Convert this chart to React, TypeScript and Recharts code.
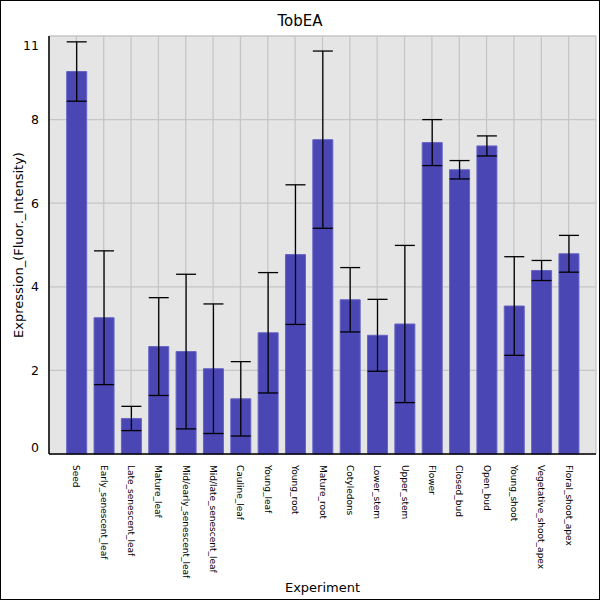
import React from 'react';
import { BarChart, Bar, XAxis, YAxis, CartesianGrid, ErrorBar } from 'recharts';

const categories = [
  'Seed', 'Early_senescent_leaf', 'Late_senescent_leaf', 'Mature_leaf', 'Mid/early_senescent_leaf',
  'Mid/late_senescent_leaf', 'Cauline_leaf', 'Young_leaf', 'Young_root', 'Mature_root',
  'Cotyledons', 'Lower_stem', 'Upper_stem', 'Flower', 'Closed_bud', 'Open_bud',
  'Young_shoot', 'Vegetative_shoot_apex', 'Floral_shoot_apex',
];
const values = [9.15, 3.26, 0.85, 2.57, 2.45, 2.04, 1.32, 2.9, 4.77, 7.52, 3.69, 2.84, 3.11, 7.45, 6.8, 7.37, 3.54, 4.39, 4.79];
const errors = [0.71, 1.6, 0.29, 1.17, 1.85, 1.55, 0.89, 1.44, 1.67, 2.12, 0.77, 0.86, 1.88, 0.55, 0.22, 0.24, 1.18, 0.24, 0.44];
const yTicks = [0, 2, 4, 6, 8, 10];
const yTickLabels = ['0', '2', '4', '6', '8', '11'];

const data = categories.map((name, i) => ({ name, value: values[i], err: errors[i] }));

const FONT = '"DejaVu Sans", sans-serif';

const XTick = (props: any) => {
  const { x, y, payload } = props;
  return (
    <text
      transform={`translate(${x},${y + 3}) rotate(90)`}
      textAnchor="start"
      dominantBaseline="central"
      fontSize={9}
      fontFamily={FONT}
      fill="#000"
    >
      {payload.value}
    </text>
  );
};

const YTick = (props: any) => {
  const { x, y, payload } = props;
  const idx = yTicks.indexOf(payload.value);
  let dy = 0;
  if (idx === 0) dy = -7;
  if (idx === yTicks.length - 1) dy = 9;
  return (
    <text
      x={x - 2}
      y={y + dy}
      textAnchor="end"
      dominantBaseline="central"
      fontSize={12.5}
      fontFamily={FONT}
      fill="#000"
    >
      {yTickLabels[idx]}
    </text>
  );
};

export default function App() {
  return (
    <div style={{ position: 'absolute', left: 0, top: 0, width: 600, height: 600, background: '#fff' }}>
      <div
        style={{
          position: 'absolute', left: 0, top: 12, width: 600, textAlign: 'center',
          fontFamily: FONT, fontSize: 15, lineHeight: '18px', color: '#000',
        }}
      >
        TobEA
      </div>
      <div style={{ position: 'absolute', left: 0, top: 0 }}>
        <BarChart
          width={600}
          height={600}
          data={data}
          margin={{ top: 36, right: 4, bottom: 0, left: 0 }}
          barCategoryGap={0}
        >
          <CartesianGrid stroke="#c6c6c6" strokeWidth={1.3} fill="#e5e5e5" fillOpacity={1} />
          <XAxis
            dataKey="name"
            type="category"
            interval={0}
            height={146}
            padding={{ left: 13.7, right: 13.7 }}
            tick={<XTick />}
            tickLine={false}
            axisLine={{ stroke: '#000', strokeWidth: 1.5 }}
            label={{ value: 'Experiment', position: 'insideBottom', offset: 8, fontSize: 13, fontFamily: FONT, fill: '#000' }}
          />
          <YAxis
            width={49}
            domain={[0, 10]}
            ticks={yTicks}
            interval={0}
            tick={<YTick />}
            tickLine={false}
            axisLine={{ stroke: '#000', strokeWidth: 1.5 }}
            label={{
              value: 'Expression_(Fluor._Intensity)', angle: -90, position: 'insideLeft', offset: 18,
              fontSize: 13, fontFamily: FONT, fill: '#000', style: { textAnchor: 'middle' },
            }}
          />
          <Bar dataKey="value" fill="#4a46b4" stroke="#6764c4" strokeWidth={1} barSize={20} isAnimationActive={false}>
            <ErrorBar dataKey="err" width={10} stroke="#000" strokeWidth={1.3} isAnimationActive={false} />
          </Bar>
        </BarChart>
      </div>
      <div
        style={{
          position: 'absolute', left: 0, top: 0, width: 600, height: 600,
          border: '1px solid #000', boxSizing: 'border-box', pointerEvents: 'none',
        }}
      />
    </div>
  );
}
